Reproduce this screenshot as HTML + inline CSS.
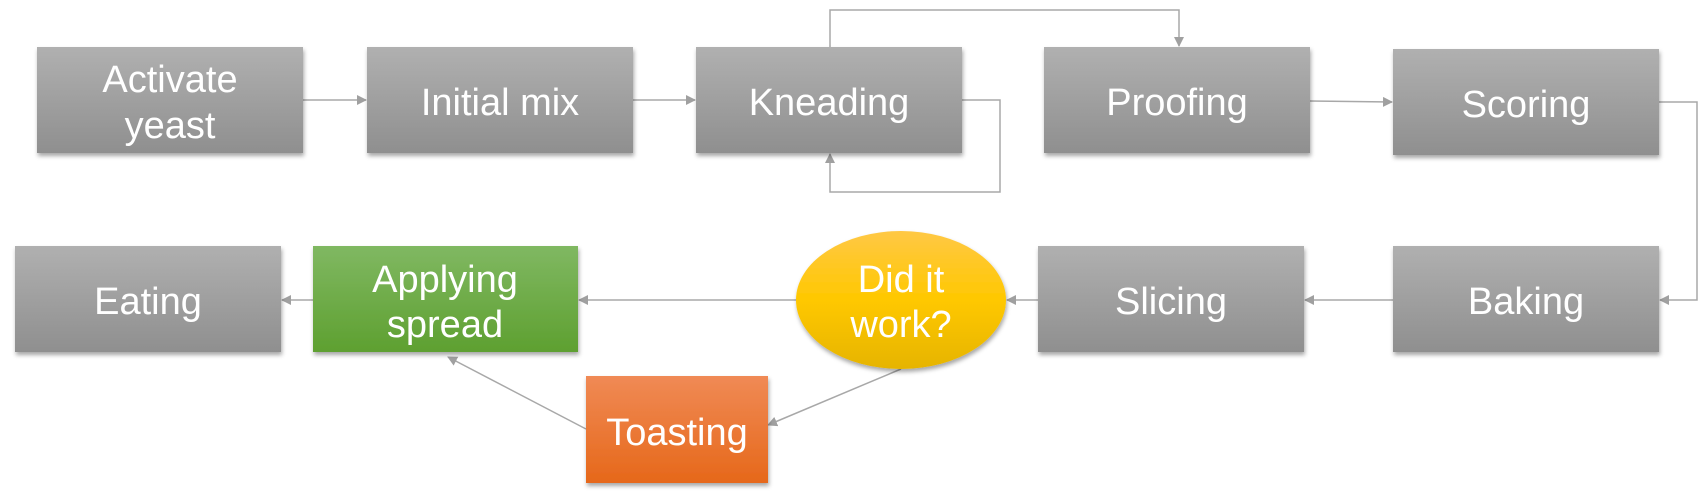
<!DOCTYPE html>
<html><head><meta charset="utf-8"><style>
html,body{margin:0;padding:0;background:#fff;}
svg{display:block;}
text{font-family:"Liberation Sans",sans-serif;fill:#fff;font-size:38px;text-anchor:middle;}
</style></head><body>
<svg width="1702" height="496" viewBox="0 0 1702 496" xmlns="http://www.w3.org/2000/svg">
<defs>
<linearGradient id="g" x1="0" y1="0" x2="0" y2="1"><stop offset="0" stop-color="#b0b0b0"/><stop offset="1" stop-color="#8f8f8f"/></linearGradient>
<linearGradient id="gr" x1="0" y1="0" x2="0" y2="1"><stop offset="0" stop-color="#80b862"/><stop offset="1" stop-color="#5ea030"/></linearGradient>
<linearGradient id="or" x1="0" y1="0" x2="0" y2="1"><stop offset="0" stop-color="#f08a55"/><stop offset="1" stop-color="#e6681a"/></linearGradient>
<linearGradient id="ye" x1="0" y1="0" x2="0" y2="1"><stop offset="0" stop-color="#ffc845"/><stop offset="0.5" stop-color="#ffc800"/><stop offset="1" stop-color="#e6b400"/></linearGradient>
<filter id="sh" x="-10%" y="-10%" width="120%" height="130%"><feDropShadow dx="1" dy="3" stdDeviation="2" flood-color="#000" flood-opacity="0.35"/></filter>
<marker id="a" markerWidth="10" markerHeight="10" refX="9" refY="5" orient="auto" markerUnits="userSpaceOnUse"><path d="M0,0 L10,5 L0,10 z" fill="#a0a0a0"/></marker>
</defs>
<g stroke="#a8a8a8" stroke-width="1.5" fill="none" marker-end="url(#a)">
<line x1="303" y1="100" x2="366" y2="100"/>
<line x1="633" y1="100" x2="695" y2="100"/>
<polyline points="830,47 830,10 1179,10 1179,46"/>
<polyline points="962,100 1000,100 1000,192 830,192 830,154"/>
<line x1="1310" y1="101" x2="1392" y2="102"/>
<polyline points="1659,102 1697,102 1697,300 1660,300"/>
<line x1="1393" y1="300" x2="1305" y2="300"/>
<line x1="1038" y1="300" x2="1007" y2="300"/>
<line x1="796" y1="300" x2="579" y2="300"/>
<line x1="313" y1="300" x2="282" y2="300"/>
<line x1="901" y1="369" x2="768" y2="425"/>
<line x1="586" y1="429" x2="448" y2="357"/>
</g>
<g filter="url(#sh)">
<rect x="37" y="47" width="266" height="106" fill="url(#g)"/>
<rect x="367" y="47" width="266" height="106" fill="url(#g)"/>
<rect x="696" y="47" width="266" height="106" fill="url(#g)"/>
<rect x="1044" y="47" width="266" height="106" fill="url(#g)"/>
<rect x="1393" y="49" width="266" height="106" fill="url(#g)"/>
<rect x="15" y="246" width="266" height="106" fill="url(#g)"/>
<rect x="313" y="246" width="265" height="106" fill="url(#gr)"/>
<rect x="1038" y="246" width="266" height="106" fill="url(#g)"/>
<rect x="1393" y="246" width="266" height="106" fill="url(#g)"/>
<rect x="586" y="376" width="182" height="107" fill="url(#or)"/>
<ellipse cx="901" cy="300" rx="105" ry="69" fill="url(#ye)"/>
</g>
<text x="170" y="92">Activate</text>
<text x="170" y="138">yeast</text>
<text x="500" y="115">Initial mix</text>
<text x="829" y="115">Kneading</text>
<text x="1177" y="115">Proofing</text>
<text x="1526" y="117">Scoring</text>
<text x="148" y="314">Eating</text>
<text x="445" y="292">Applying</text>
<text x="445" y="337">spread</text>
<text x="901" y="292">Did it</text>
<text x="901" y="337">work?</text>
<text x="1171" y="314">Slicing</text>
<text x="1526" y="314">Baking</text>
<text x="677" y="445">Toasting</text>
</svg>
</body></html>
